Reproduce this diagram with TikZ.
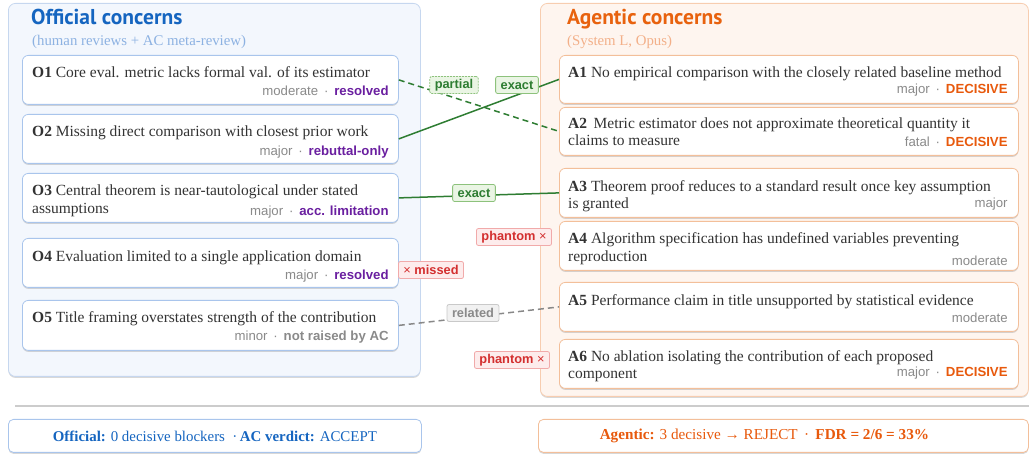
\documentclass[tikz,border=0pt]{standalone}
\usepackage{fontspec}
\setmainfont{Liberation Serif}
\setsansfont{Liberation Sans}
\newfontfamily\titlefont{PT Sans}
\usetikzlibrary{shadows,calc}
\definecolor{pLfill}{HTML}{F3F7FD}
\definecolor{pLborder}{HTML}{C6D7EF}
\definecolor{pRfill}{HTML}{FEF5EF}
\definecolor{pRborder}{HTML}{F7CDB0}
\definecolor{oborder}{HTML}{A9C5EC}
\definecolor{aborder}{HTML}{F3BF9A}
\definecolor{tblue}{HTML}{1565C0}
\definecolor{sblue}{HTML}{8DB2E2}
\definecolor{torange}{HTML}{E8620E}
\definecolor{sorange}{HTML}{F3B089}
\definecolor{txt}{HTML}{333333}
\definecolor{metagray}{HTML}{8A8A8A}
\definecolor{purp}{HTML}{6A1FA0}
\definecolor{decis}{HTML}{E8590C}
\definecolor{gline}{HTML}{2E7D32}
\definecolor{gfill}{HTML}{EAF5E4}
\definecolor{gborder}{HTML}{8DC27C}
\definecolor{rtxt}{HTML}{D32F2F}
\definecolor{rfill}{HTML}{FDECEC}
\definecolor{rborder}{HTML}{F1AAAA}
\definecolor{graytxt}{HTML}{8A8A8A}
\definecolor{grayfill}{HTML}{F1F1F1}
\definecolor{grayborder}{HTML}{C9C9C9}
\definecolor{grayline}{HTML}{888888}
\tikzset{
  shad/.style={drop shadow={shadow xshift=0pt,shadow yshift=-1.5pt,opacity=0.22,fill=black!70}},
  panelbox/.style={rounded corners=7pt, line width=0.8pt, shad},
  card/.style={fill=white, rounded corners=6pt, line width=0.8pt, anchor=north west,
    inner sep=0pt, minimum height=49pt, shad},
  ocard/.style={card, draw=oborder, minimum width=376pt},
  acard/.style={card, draw=aborder, minimum width=459pt},
  body/.style={anchor=base west, inner sep=0pt, text=txt, font=\fontsize{15.5}{18}\selectfont},
  meta/.style={anchor=base east, inner sep=0pt, text=metagray, font=\sffamily\fontsize{13.2}{15}\selectfont},
  tag/.style={rounded corners=2pt, line width=0.8pt, inner xsep=5pt, inner ysep=0pt,
    minimum height=17pt, font=\sffamily\bfseries\fontsize{12.8}{14}\selectfont},
  gtag/.style={tag, draw=gborder, fill=gfill, text=gline},
  ptag/.style={gtag, dashed, dash pattern=on 2pt off 1pt},
  rtag/.style={tag, draw=rborder, fill=rfill, text=rtxt},
  graytag/.style={tag, draw=grayborder, fill=grayfill, text=graytxt},
  exactline/.style={draw=gline, line width=1.5pt},
  partline/.style={draw=gline, line width=1.5pt, dash pattern=on 6pt off 4pt},
  relline/.style={draw=grayline, line width=1.5pt, dash pattern=on 6pt off 4pt},
  ptitle/.style={anchor=base west, inner sep=0pt, font=\titlefont\bfseries\fontsize{21.5}{25}\selectfont},
  psub/.style={anchor=base west, inner sep=0pt, font=\fontsize{14.8}{17}\selectfont},
  summ/.style={fill=white, rounded corners=5pt, line width=0.8pt, anchor=north west, inner sep=0pt, minimum height=33pt, shad}
}
\newcommand{\B}[1]{\textbf{#1}}
\begin{document}
\begin{tikzpicture}[x=1pt,y=-1pt]
\useasboundingbox (0,0) rectangle (1029,454);
% panels
\node[panelbox, draw=pLborder, fill=pLfill, anchor=north west, minimum width=412pt, minimum height=373pt, inner sep=0pt] (pl) at (8,3) {};
\node[panelbox, draw=pRborder, fill=pRfill, anchor=north west, minimum width=488pt, minimum height=393pt, inner sep=0pt] (pr) at (540,3) {};
\node[ptitle, text=tblue] (tl) at (31,25) {Official concerns};
\node[psub, text=sblue] (sl) at (32,46) {(human reviews + AC meta-review)};
\node[ptitle, text=torange] (tr) at (567,25) {Agentic concerns};
\node[psub, text=sorange] (sr) at (567,46) {(System L, Opus)};

% official cards
\node[ocard] (o1) at (22,55) {};
\node[body] at ($(o1.north west)+(10,23)$) {\B{O1} Core eval. metric lacks formal val. of its estimator};
\node[meta] at ($(o1.north east)+(-10,41)$) {moderate \,·\, \textcolor{purp}{\B{resolved}}};

\node[ocard] (o2) at (22,114) {};
\node[body] at ($(o2.north west)+(10,23)$) {\B{O2} Missing direct comparison with closest prior work};
\node[meta] at ($(o2.north east)+(-10,42)$) {major \,·\, \textcolor{purp}{\B{rebuttal-only}}};

\node[ocard] (o3) at (22,173) {};
\node[body] at ($(o3.north west)+(10,23)$) {\B{O3} Central theorem is near-tautological under stated};
\node[body] at ($(o3.north west)+(10,41)$) {assumptions};
\node[meta] at ($(o3.north east)+(-10,43)$) {major \,·\, \textcolor{purp}{\B{acc. limitation}}};

\node[ocard] (o4) at (22,238) {};
\node[body] at ($(o4.north west)+(10,24)$) {\B{O4} Evaluation limited to a single application domain};
\node[meta] at ($(o4.north east)+(-10,42)$) {major \,·\, \textcolor{purp}{\B{resolved}}};

\node[ocard, minimum height=50pt] (o5) at (22,300) {};
\node[body] at ($(o5.north west)+(10,23)$) {\B{O5} Title framing overstates strength of the contribution};
\node[meta] at ($(o5.north east)+(-10,41)$) {minor \,·\, \B{not raised by AC}};

% agentic cards
\node[acard, minimum height=48pt] (a1) at (559,55) {};
\node[body] at ($(a1.north west)+(9,23)$) {\B{A1} No empirical comparison with the closely related baseline method};
\node[meta] at ($(a1.north east)+(-11,39)$) {major \,·\, \textcolor{decis}{\B{DECISIVE}}};

\node[acard, minimum height=48pt] (a2) at (559,107) {};
\node[body] at ($(a2.north west)+(9,22)$) {\B{A2}\, Metric estimator does not approximate theoretical quantity it};
\node[body] at ($(a2.north west)+(9,39)$) {claims to measure};
\node[meta] at ($(a2.north east)+(-11,40)$) {fatal \,·\, \textcolor{decis}{\B{DECISIVE}}};

\node[acard] (a3) at (559,168) {};
\node[body] at ($(a3.north west)+(9,24)$) {\B{A3} Theorem proof reduces to a standard result once key assumption};
\node[body] at ($(a3.north west)+(9,41)$) {is granted};
\node[meta] at ($(a3.north east)+(-11,40)$) {major};

\node[acard] (a4) at (559,221) {};
\node[body] at ($(a4.north west)+(9,23)$) {\B{A4} Algorithm specification has undefined variables preventing};
\node[body] at ($(a4.north west)+(9,41)$) {reproduction};
\node[meta] at ($(a4.north east)+(-11,45)$) {moderate};

\node[acard] (a5) at (559,282) {};
\node[body] at ($(a5.north west)+(9,24)$) {\B{A5} Performance claim in title unsupported by statistical evidence};
\node[meta] at ($(a5.north east)+(-11,41)$) {moderate};

\node[acard] (a6) at (559,339) {};
\node[body] at ($(a6.north west)+(9,23)$) {\B{A6} No ablation isolating the contribution of each proposed};
\node[body] at ($(a6.north west)+(9,40)$) {component};
\node[meta] at ($(a6.north east)+(-11,38)$) {major \,·\, \textcolor{decis}{\B{DECISIVE}}};

% connectors
\draw[partline] (o1.east) -- (a2.west);
\draw[exactline] (o2.east) -- (a1.west);
\draw[exactline] (o3.east) -- (a3.west);
\draw[relline] (o5.east) -- (a5.west);

% tags
\node[ptag] (tpartial) at (454,85) {partial};
\node[gtag] (texact1) at (517,85) {exact};
\node[gtag] (texact2) at (474,193) {exact};
\node[rtag] (tmissed) at (431,270) {\mdseries×\bfseries\ missed};
\node[rtag] (tph1) at (514,237) {phantom \mdseries×};
\node[graytag] (trel) at (473,313) {related};
\node[rtag] (tph2) at (512,360) {phantom \mdseries×};

% separator
\coordinate (sepL) at (15,406);
\coordinate (sepR) at (1029,406);
\draw[line width=1.6pt, draw=black!20] (sepL) -- (sepR);

% summaries
\node[summ, draw=oborder, minimum width=413pt] (sumL) at (8,419) {};
\node[text=tblue, font=\fontsize{14.9}{17}\selectfont] at (sumL.center) {\B{Official:} 0 decisive blockers \ ·\,\B{AC verdict:} ACCEPT};
\node[summ, draw=aborder, minimum width=490pt] (sumR) at (538,419) {};
\node[text=decis, font=\fontsize{15.2}{17}\selectfont] at ($(sumR.center)+(-19,0)$) {\B{Agentic:} 3 decisive → REJECT \,·\, \B{FDR = 2/6 = 33\%}};
\end{tikzpicture}
\end{document}
